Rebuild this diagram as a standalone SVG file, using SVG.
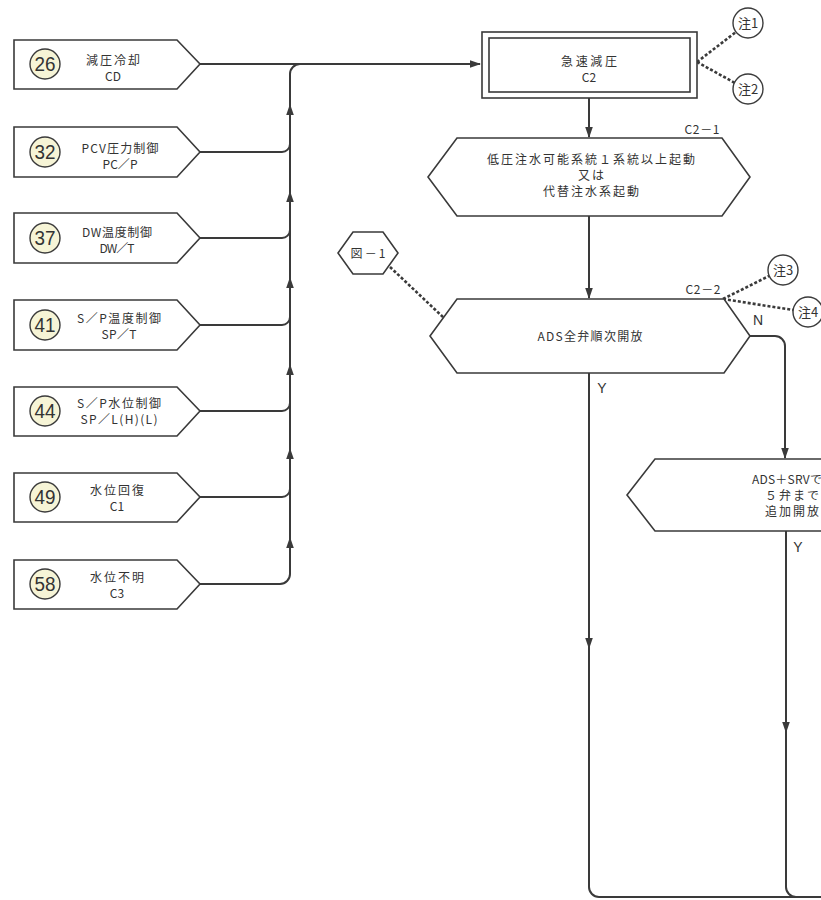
<svg xmlns="http://www.w3.org/2000/svg" xmlns:xlink="http://www.w3.org/1999/xlink" width="821" height="900" viewBox="0 0 821 900">
<style>
.ln{fill:none;stroke:#3a3a3a;stroke-width:2}
.box{fill:#fff;stroke:#3a3a3a;stroke-width:1.6}
.dot{fill:none;stroke:#3a3a3a;stroke-width:2.6;stroke-dasharray:3 2}
.num{fill:#f6f4d6;stroke:#3a3a3a;stroke-width:1.4}
.note{fill:#fff;stroke:#3a3a3a;stroke-width:1.4}
.t{font-family:"Noto Sans CJK JP","Liberation Sans",sans-serif;font-size:12px;fill:#333;text-anchor:middle}
.n{font-family:"Liberation Sans","Noto Sans CJK JP",sans-serif;font-size:20px;fill:#333;text-anchor:middle}
.nt{font-family:"Noto Sans CJK JP",sans-serif;font-size:13px;fill:#333;text-anchor:middle}
.yn{font-family:"Liberation Sans",sans-serif;font-size:14px;fill:#333;text-anchor:middle}
.ah{fill:#3a3a3a}
</style>
<defs>
<path id="ad" d="M0,0 L-3.8,-11 L3.8,-11 Z" class="ah"/>
<path id="au" d="M0,0 L-3.8,11 L3.8,11 Z" class="ah"/>
<path id="ar" d="M0,0 L-11,-3.8 L-11,3.8 Z" class="ah"/>
</defs>
<rect width="821" height="900" fill="#fff"/>

<g id="connectors">
<path class="ln" d="M200,64 H480"/>
<use xlink:href="#ar" x="481" y="64"/>
<path class="ln" d="M200,584 H280 A10,10 0 0 0 290,574 V74 A10,10 0 0 1 300,64"/>
<path class="ln" d="M200,152 H282 A8,8 0 0 0 290,144"/>
<path class="ln" d="M200,238 H282 A8,8 0 0 0 290,230"/>
<path class="ln" d="M200,325 H282 A8,8 0 0 0 290,317"/>
<path class="ln" d="M200,411 H282 A8,8 0 0 0 290,403"/>
<path class="ln" d="M200,497 H282 A8,8 0 0 0 290,489"/>
<use xlink:href="#au" x="290" y="104"/>
<use xlink:href="#au" x="290" y="191"/>
<use xlink:href="#au" x="290" y="277"/>
<use xlink:href="#au" x="290" y="364"/>
<use xlink:href="#au" x="290" y="448"/>
<use xlink:href="#au" x="290" y="537"/>
<path class="ln" d="M589,98 V137"/>
<use xlink:href="#ad" x="589" y="138"/>
<path class="ln" d="M589,216 V298"/>
<use xlink:href="#ad" x="589" y="299"/>
<path class="ln" d="M750,336 H775 A10,10 0 0 1 785,346 V458"/>
<use xlink:href="#ad" x="785" y="459"/>
<path class="ln" d="M589,373 V887 A10,10 0 0 0 599,897 H830"/>
<use xlink:href="#ad" x="589" y="649"/>
<path class="ln" d="M786,531 V887 A10,10 0 0 0 796,897"/>
<use xlink:href="#ad" x="786" y="733"/>
<path class="dot" d="M697,62 L736,32"/>
<path class="dot" d="M697,62 L735,83"/>
<path class="dot" d="M723,299 L769,276"/>
<path class="dot" d="M723,299 L793,310"/>
<path class="dot" d="M390,267 L444,318"/>
</g>

<g id="n26">
<path class="box" d="M14,40 H177 L200,64 L177,89 H14 Z"/>
<circle class="num" cx="45" cy="64" r="15"/>
<text class="n" x="45" y="71" textLength="21" lengthAdjust="spacingAndGlyphs">26</text>
<text class="t" x="113" y="65" textLength="54">減圧冷却</text>
<text class="t" x="113" y="81">CD</text>
</g>
<g id="n32">
<path class="box" d="M14,127 H177 L200,152 L177,177 H14 Z"/>
<circle class="num" cx="45" cy="152" r="15"/>
<text class="n" x="45" y="159" textLength="21" lengthAdjust="spacingAndGlyphs">32</text>
<text class="t" x="120" y="153" textLength="77">PCV圧力制御</text>
<text class="t" x="120" y="169" textLength="35">PC／P</text>
</g>
<g id="n37">
<path class="box" d="M14,213 H177 L200,238 L177,263 H14 Z"/>
<circle class="num" cx="45" cy="238" r="15"/>
<text class="n" x="45" y="245" textLength="21" lengthAdjust="spacingAndGlyphs">37</text>
<text class="t" x="117" y="237" textLength="70">DW温度制御</text>
<text class="t" x="117" y="253" textLength="35">DW／T</text>
</g>
<g id="n41">
<path class="box" d="M14,300 H177 L200,325 L177,350 H14 Z"/>
<circle class="num" cx="45" cy="325" r="15"/>
<text class="n" x="45" y="332" textLength="21" lengthAdjust="spacingAndGlyphs">41</text>
<text class="t" x="119" y="323" textLength="84">S／P温度制御</text>
<text class="t" x="119" y="339" textLength="35">SP／T</text>
</g>
<g id="n44">
<path class="box" d="M14,387 H177 L200,411 L177,436 H14 Z"/>
<circle class="num" cx="45" cy="411" r="15"/>
<text class="n" x="45" y="418" textLength="21" lengthAdjust="spacingAndGlyphs">44</text>
<text class="t" x="119" y="408" textLength="84">S／P水位制御</text>
<text class="t" x="119" y="424" textLength="77">SP／L(H)(L)</text>
</g>
<g id="n49">
<path class="box" d="M14,473 H177 L200,497 L177,522 H14 Z"/>
<circle class="num" cx="45" cy="497" r="15"/>
<text class="n" x="45" y="504" textLength="21" lengthAdjust="spacingAndGlyphs">49</text>
<text class="t" x="117" y="495" textLength="54">水位回復</text>
<text class="t" x="117" y="511">C1</text>
</g>
<g id="n58">
<path class="box" d="M14,560 H177 L200,584 L177,609 H14 Z"/>
<circle class="num" cx="45" cy="584" r="15"/>
<text class="n" x="45" y="591" textLength="21" lengthAdjust="spacingAndGlyphs">58</text>
<text class="t" x="117" y="582" textLength="54">水位不明</text>
<text class="t" x="117" y="598">C3</text>
</g>

<g id="c2">
<rect class="box" x="482" y="32" width="215" height="66" stroke-width="2.2"/>
<rect class="box" x="489" y="38" width="201" height="54"/>
<text class="t" x="589" y="66" textLength="56">急速減圧</text>
<text class="t" x="589" y="82">C2</text>
</g>
<g id="note1">
<circle class="note" cx="748" cy="23" r="15"/>
<text class="nt" x="748" y="28">注1</text>
</g>
<g id="note2">
<circle class="note" cx="748" cy="89" r="15"/>
<text class="nt" x="748" y="94">注2</text>
</g>

<g id="c2-1">
<path class="box" d="M457,138 H722 L750,177 L722,216 H457 L428,177 Z"/>
<text class="t" x="702" y="134" textLength="35">C2－1</text>
<text class="t" x="591" y="164" textLength="208">低圧注水可能系統１系統以上起動</text>
<text class="t" x="591" y="180" textLength="26">又は</text>
<text class="t" x="591" y="196" textLength="96">代替注水系起動</text>
</g>

<g id="fig1">
<path class="box" d="M353,232 H383 L398,253 L383,274 H353 L338,253 Z"/>
<text class="t" x="368" y="258" textLength="35">図－1</text>
</g>

<g id="c2-2">
<path class="box" d="M457,299 H724 L750,336 L724,373 H457 L430,336 Z"/>
<text class="t" x="703" y="294" textLength="35">C2－2</text>
<text class="t" x="590" y="341" textLength="105">ADS全弁順次開放</text>
<text class="yn" x="758" y="325">N</text>
<text class="yn" x="602" y="393">Y</text>
</g>
<g id="note3">
<circle class="note" cx="783" cy="270" r="15"/>
<text class="nt" x="783" y="275">注3</text>
</g>
<g id="note4">
<circle class="note" cx="808" cy="312" r="15"/>
<text class="nt" x="808" y="317">注4</text>
</g>

<g id="c2-3">
<path class="box" d="M655,459 H930 L958,495 L930,531 H655 L627,495 Z"/>
<text class="t" x="787" y="484" textLength="70">ADS＋SRVで</text>
<text class="t" x="792" y="500" textLength="54">５弁まで</text>
<text class="t" x="792" y="516" textLength="54">追加開放</text>
<text class="yn" x="798" y="552">Y</text>
</g>
</svg>
